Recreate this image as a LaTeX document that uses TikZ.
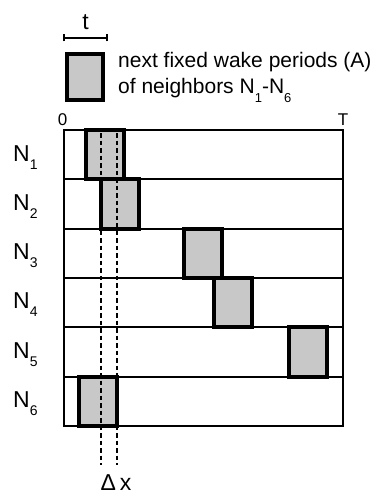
\documentclass[tikz,border=0pt]{standalone}
\usepackage{fontspec}
\setmainfont{Liberation Sans}
\definecolor{wakegray}{RGB}{200,200,200}
% node name with a lowered index digit
\newcommand{\nodeidx}[3]{N\raisebox{-#2pt}{\fontsize{#3}{#3}\selectfont #1}}
\begin{document}
\begin{tikzpicture}[x=1pt,y=-1pt,
  rowbox/.style={draw=black, line width=1.9pt, minimum width=279pt,
    minimum height=49.33pt, inner sep=0pt, outer sep=0pt, anchor=north west},
  wake/.style={draw=black, line width=4pt, fill=wakegray, minimum width=38pt,
    minimum height=49.33pt, inner sep=0pt, outer sep=0pt, anchor=north west},
  legendbox/.style={draw=black, line width=4pt, fill=wakegray, minimum width=36pt,
    minimum height=46pt, inner sep=0pt, outer sep=0pt, anchor=north west},
  rowlabel/.style={anchor=base west, inner sep=0pt, font=\fontsize{23}{23}\selectfont},
  legendtext/.style={anchor=base west, inner sep=0pt, font=\fontsize{21}{21}\selectfont},
  axislabel/.style={anchor=base, inner sep=0pt, font=\fontsize{17}{17}\selectfont},
  overlap/.style={line width=1.5pt, dash pattern=on 4.5pt off 3pt},
  scalebar/.style={line width=2.5pt},
]
\useasboundingbox (0,0) rectangle (374,495);

% time rows
\foreach \i in {1,...,6}{
  \node[rowbox] (row\i) at (64,{130+49.33*(\i-1)}) {};
  \node[rowlabel] (lab\i) at (13,{161+49.33*(\i-1)}) {\nodeidx{\i}{8}{14}};
}

% wake periods of each neighbour
\node[wake] (w1) at (86,130) {};
\node[wake] (w2) at (101,179.33) {};
\node[wake] (w3) at (184,228.66) {};
\node[wake] (w4) at (214,277.99) {};
\node[wake] (w5) at (289,327.32) {};
\node[wake] (w6) at (79,376.65) {};

% time axis ends
\node[axislabel] (zero) at (62.5,125) {0};
\node[axislabel] (tend) at (343,125) {T};

% overlap window
\coordinate (dlt) at (101,133);
\coordinate (dlb) at (101,465);
\coordinate (drt) at (117,133);
\coordinate (drb) at (117,465);
\draw[overlap] (dlt) -- (dlb);
\draw[overlap] (drt) -- (drb);
\node[anchor=base, inner sep=0pt, font=\fontsize{23}{23}\selectfont] (dx) at (116,490) {Δ\hspace{4pt}x};

% legend
\coordinate (sbl) at (64,38);
\coordinate (sbr) at (107,38);
\draw[scalebar] (sbl) -- (sbr);
\draw[line width=2pt] ([yshift=-3.5pt]sbl) -- ([yshift=3.5pt]sbl);
\draw[line width=2pt] ([yshift=-3.5pt]sbr) -- ([yshift=3.5pt]sbr);
\node[anchor=base, inner sep=0pt, font=\fontsize{23}{23}\selectfont] (tlab) at (85.5,30) {t};
\node[legendbox] (lbox) at (67,54) {};
\node[legendtext] (leg1) at (118,67) {next fixed wake periods (A)};
\node[legendtext] (leg2) at (118,93) {of neighbors \nodeidx{1}{9}{13}-\nodeidx{6}{9}{13}};
\end{tikzpicture}
\end{document}
